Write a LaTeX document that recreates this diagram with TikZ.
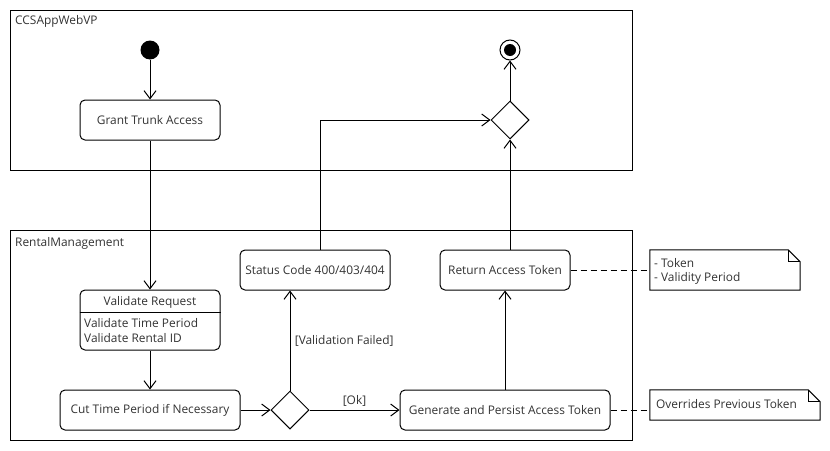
\documentclass[tikz,border=0pt]{standalone}
\usepackage{fontspec}
\setmainfont{Open Sans}
\usetikzlibrary{arrows.meta,shapes.geometric}
\definecolor{txt}{HTML}{333333}
\tikzset{
  every node/.style={font=\fontsize{11.9}{13}\selectfont, text=txt},
  act/.style={draw, rounded corners=5pt, line width=1pt, inner sep=0pt},
  dec/.style={draw, diamond, line width=1pt, minimum width=38pt, minimum height=38pt, inner sep=0pt},
  flow/.style={line width=1pt, -{Straight Barb[length=8pt,width=12pt,line width=1pt]}},
  link/.style={line width=1pt, dash pattern=on 6pt off 4pt},
  part/.style={draw, line width=1pt},
  notebox/.style={line width=1pt},
}
\begin{document}
\begin{tikzpicture}[x=1pt,y=-1pt]
\useasboundingbox (0,0) rectangle (830,450);
% partitions
\draw[part] (10,10) rectangle (632,170);
\draw[part] (10,230) rectangle (632,440);
\node[anchor=west, inner sep=0pt] (p1) at (15,21) {CCSAppWebVP};
\node[anchor=west, inner sep=0pt] (p2) at (15,243) {RentalManagement};
% initial / final
\node[circle, fill=black, minimum size=19pt, inner sep=0pt] (init) at (150,50) {};
\node[circle, draw, line width=1pt, minimum size=20pt, inner sep=0pt] (fin) at (510,50) {};
\node[circle, fill=black, minimum size=12pt, inner sep=0pt] (finin) at (510,50) {};
% actions
\node[act, minimum width=140pt, minimum height=40pt] (grant) at (150,120) {Grant Trunk Access};
\node[act, minimum width=140pt, minimum height=60pt] (val) at (150,320) {};
\draw[line width=1pt] (val.west |- 0,312) -- (val.east |- 0,312);
\node[inner sep=0pt] (valt) at (150,302) {Validate Request};
\node[anchor=west, inner sep=0pt] (val1) at (84,323) {Validate Time Period};
\node[anchor=west, inner sep=0pt] (val2) at (84,338) {Validate Rental ID};
\node[act, minimum width=180pt, minimum height=40pt] (cut) at (150,410) {Cut Time Period if Necessary};
\node[dec] (d1) at (290,410) {};
\node[act, minimum width=150pt, minimum height=40pt] (status) at (315,270) {Status Code 400/403/404};
\node[act, minimum width=130pt, minimum height=40pt] (ret) at (505,270) {Return Access Token};
\node[act, minimum width=210pt, minimum height=40pt] (gen) at (505,410) {Generate and Persist Access Token};
\node[dec] (d2) at (510,120) {};
% notes
\node[minimum width=150pt, minimum height=40pt, inner sep=0pt] (n1) at (725,270) {};
\draw[notebox] (n1.north west) -- ([xshift=-12pt]n1.north east) -- ([yshift=-12pt]n1.north east) -- (n1.south east) -- (n1.south west) -- cycle;
\draw[notebox] ([xshift=-12pt]n1.north east) -- ([xshift=-12pt,yshift=-12pt]n1.north east) -- ([yshift=-12pt]n1.north east);
\node[anchor=west, inner sep=0pt] (n1a) at (654,263) {- Token};
\node[anchor=west, inner sep=0pt] (n1b) at (654,278) {- Validity Period};
\node[minimum width=170pt, minimum height=30pt, inner sep=0pt] (n2) at (735,405) {};
\draw[notebox] (n2.north west) -- ([xshift=-12pt]n2.north east) -- ([yshift=-12pt]n2.north east) -- (n2.south east) -- (n2.south west) -- cycle;
\draw[notebox] ([xshift=-12pt]n2.north east) -- ([xshift=-12pt,yshift=-12pt]n2.north east) -- ([yshift=-12pt]n2.north east);
\node[anchor=west, inner sep=0pt] (n2a) at (656,404) {Overrides Previous Token};
% flows
\draw[flow] (init) -- (grant);
\draw[flow] (grant) -- (val);
\draw[flow] (val) -- (cut);
\draw[flow] (cut) -- (d1);
\draw[flow] (d1) -- node[above, inner sep=3pt] {[Ok]} (gen);
\draw[flow] (d1) -- node[right, pos=0.5, xshift=1pt] {[Validation Failed]} (d1 |- status.south);
\draw[flow] (gen.north -| ret) -- (ret);
\draw[flow] (ret.north -| d2) -- (d2);
\draw[flow] (status.north -| 320,0) |- (d2.west);
\draw[flow] (d2) -- (fin);
\draw[link] (ret.east) -- (n1.west);
\draw[link] (gen.east) -- (gen.east -| n2.west);
\end{tikzpicture}
\end{document}
